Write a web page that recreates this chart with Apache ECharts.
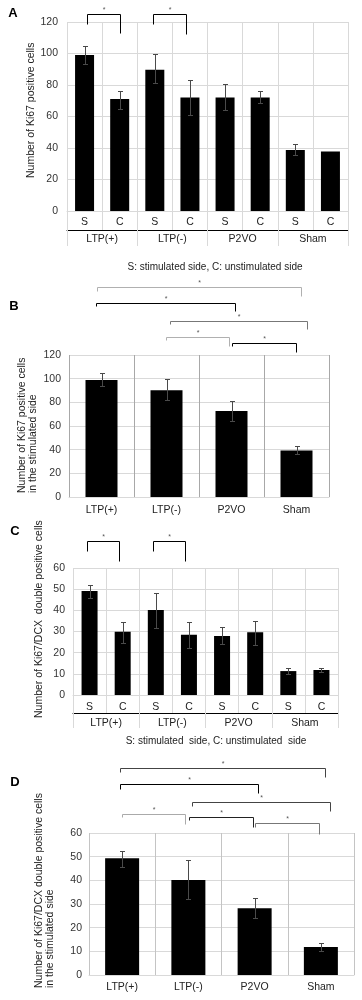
<!DOCTYPE html>
<html>
<head>
<meta charset="utf-8">
<script src="https://cdn.jsdelivr.net/npm/echarts@6/dist/echarts.min.js"></script>
<style>
  html, body { margin: 0; padding: 0; background: #fff; }
  #chart { width: 362px; height: 1000px; }
</style>
</head>
<body>
<div id="chart"></div>
<script>
// ---------- data ----------
const groups = ['LTP(+)', 'LTP(-)', 'P2VO', 'Sham'];
const sides = ['S', 'C', 'S', 'C', 'S', 'C', 'S', 'C'];

// Panel A: Ki67 positive cells, both sides
const ki67Both = [99, 71.1, 89.7, 72, 72, 72, 38.7, 37.7];
const ki67BothLow = [93.1, 65, 81, 60.8, 63.9, 68.4, 35.6, null];
const ki67BothHigh = [104.6, 76.2, 99.4, 83, 80.4, 76.2, 42.5, null];

// Panel B: Ki67 positive cells, stimulated side
const ki67Stim = [98.9, 90.2, 72.7, 39.4];
const ki67StimLow = [93.5, 81.7, 64, 36.3];
const ki67StimHigh = [104.5, 99.7, 80.8, 43.1];

// Panel C: Ki67/DCX double positive cells, both sides
const dcxBoth = [49.1, 29.9, 40.2, 28.5, 27.9, 29.6, 11.3, 11.8];
const dcxBothLow = [46, 24.7, 31.5, 22, 24, 23.5, 9.8, 11];
const dcxBothHigh = [52, 34.6, 48, 34.6, 32, 35.1, 12.9, 12.9];

// Panel D: Ki67/DCX double positive cells, stimulated side
const dcxStim = [49.3, 40.1, 28.2, 11.8];
const dcxStimLow = [45.8, 32, 24, 10.1];
const dcxStimHigh = [52.4, 48.6, 32.4, 13.4];

// significant comparisons (category index pairs)
const sigA = [[0, 1], [2, 3]];
const sigB = [[0, 3], [0, 2], [1, 3], [1, 2], [2, 3]];
const sigC = [[0, 1], [2, 3]];
const sigD = [[0, 3], [0, 2], [1, 3], [0, 1], [1, 2], [2, 3]];

// ---------- annotation layout (bracket heights in axis units, pixel nudges, tones) ----------
const sigALayout = [[125, 118.7, 113, 2, 0], [125, 118.7, 112.4, -2, -4]];
const sigBLayout = [[177.5, 174, 169.9, -4.5, 4.5], [164, 161.4, 157.2, -5.5, 3.5],
                    [148.7, 146.2, 142, 3.5, 10.5], [135.2, 132.7, 127.6, -0.5, -2.5],
                    [130.1, 127.6, 122.5, 0.5, -0.5]];
const sigCLayout = [[72.8, 68, 63.3, -2.5, -3.5], [72.8, 68, 63.3, -2.5, -3.5]];
const sigDLayout = [[87.5, 85.8, 83.7, -2, 4], [80.7, 78.6, 76.9, -2, 3],
                    [73.1, 71.4, 69.3, 4, 9], [68, 66.8, 63.8, 0, -3],
                    [66.8, 65.5, 62.5, 1, -1.5], [64.2, 62.5, 59.6, 0, -2]];
const sigATone = ['#000', '#000'];
const sigBTone = ['#b0b0b0', '#000', '#777', '#b0b0b0', '#000'];
const sigCTone = ['#000', '#000'];
const sigDTone = ['#444', '#000', '#444', '#aaa', '#222', '#777'];

const FONT = '"Liberation Sans", Arial, sans-serif';
const LIGHT = '#d9d9d9';
const TEXT = '#222';

function errorItem(params, api) {
  const lo = api.value(1), hi = api.value(2);
  if (lo == null || hi == null || isNaN(lo) || isNaN(hi)) return null;
  const pLo = api.coord([api.value(0), lo]);
  const pHi = api.coord([api.value(0), hi]);
  const x = Math.round(pLo[0]) + 0.5;
  const yl = Math.round(pLo[1]) + 0.5, yh = Math.round(pHi[1]) + 0.5;
  const cap = 2.5;
  const st = { stroke: '#4a4a4a', lineWidth: 1 };
  return {
    type: 'group',
    children: [
      { type: 'line', shape: { x1: x, y1: yl, x2: x, y2: yh }, style: st },
      { type: 'line', shape: { x1: x - cap, y1: yl, x2: x + cap, y2: yl }, style: st },
      { type: 'line', shape: { x1: x - cap, y1: yh, x2: x + cap, y2: yh }, style: st }
    ]
  };
}

function bracketRenderer(tones) {
  return function (params, api) {
    const from = api.value(0), to = api.value(1);
    const top = api.value(2), lEnd = api.value(3), rEnd = api.value(4);
    const x1 = Math.round(api.coord([from, top])[0] + api.value(5)) + 0.5;
    const x2 = Math.round(api.coord([to, top])[0] + api.value(6)) + 0.5;
    const yTop = Math.round(api.coord([from, top])[1]) + 0.5;
    const yL = Math.round(api.coord([from, lEnd])[1]) + 0.5;
    const yR = Math.round(api.coord([to, rEnd])[1]) + 0.5;
    const color = tones[params.dataIndex];
    return {
      type: 'group',
      children: [
        { type: 'polyline', shape: { points: [[x1, yL], [x1, yTop], [x2, yTop], [x2, yR]] },
          style: { stroke: color, fill: null, lineWidth: 1 } },
        { type: 'text', style: { text: '*', x: (x1 + x2) / 2, y: yTop - 1, align: 'center',
          verticalAlign: 'bottom', fontSize: 7, fill: '#555', fontFamily: FONT } }
      ]
    };
  };
}

function bracketData(pairs, layout) {
  return pairs.map((p, i) => [p[0], p[1], layout[i][0], layout[i][1], layout[i][2], layout[i][3], layout[i][4]]);
}
function errData(lo, hi) {
  return lo.map((v, i) => [i, v, hi[i]]);
}

function valueAxis(gridIndex, max, interval, margin) {
  return {
    type: 'value', gridIndex, min: 0, max, interval,
    axisLine: { show: false }, axisTick: { show: false },
    axisLabel: { fontSize: 10.5, color: '#333', margin, fontFamily: FONT },
    splitLine: { lineStyle: { color: LIGHT, width: 1 } }
  };
}

function catAxis(gridIndex, data, opts) {
  return Object.assign({
    type: 'category', gridIndex, data, position: 'bottom',
    axisLine: { lineStyle: { color: LIGHT } },
    axisTick: { show: false },
    axisLabel: { fontSize: 10.5, color: TEXT, fontFamily: FONT, margin: 7, interval: 0 },
    splitLine: { show: true, lineStyle: { color: LIGHT } }
  }, opts);
}

function ytitle(text, x, y, top) {
  return {
    type: 'text', x, y, rotation: Math.PI / 2,
    style: { text, fontSize: 10.5, fill: TEXT, fontFamily: FONT, align: 'left',
      verticalAlign: top ? 'top' : 'middle', lineHeight: 11 }
  };
}

const chart = echarts.init(document.getElementById('chart'), null, { renderer: 'canvas' });

const option = {
  animation: false,
  backgroundColor: '#fff',
  grid: [
    { left: 67, top: 22, width: 281, height: 189 },
    { left: 69, top: 355, width: 260, height: 142 },
    { left: 73, top: 568, width: 265, height: 127 },
    { left: 89, top: 833, width: 265, height: 142 }
  ],
  xAxis: [
    catAxis(0, sides, { axisTick: { show: true, length: 19, lineStyle: { color: LIGHT } },
      axisLabel: { fontSize: 10.5, color: TEXT, fontFamily: FONT, margin: 6, interval: 0 } }),
    catAxis(0, groups, { offset: 19, axisLine: { lineStyle: { color: '#000' } },
      axisTick: { show: true, length: 16, lineStyle: { color: LIGHT } },
      axisLabel: { fontSize: 10.5, color: TEXT, fontFamily: FONT, margin: 4, interval: 0 },
      splitLine: { show: false } }),
    catAxis(1, groups, { splitLine: { show: true, lineStyle: { color: '#a8a8a8' } },
      axisLabel: { fontSize: 10.5, color: TEXT, fontFamily: FONT, margin: 8, interval: 0 } }),
    catAxis(2, sides, { axisTick: { show: true, length: 18, lineStyle: { color: LIGHT } },
      axisLabel: { fontSize: 10.5, color: TEXT, fontFamily: FONT, margin: 7, interval: 0 } }),
    catAxis(2, groups, { offset: 18, axisLine: { lineStyle: { color: '#000' } },
      axisTick: { show: true, length: 15, lineStyle: { color: LIGHT } },
      axisLabel: { fontSize: 10.5, color: TEXT, fontFamily: FONT, margin: 5, interval: 0 },
      splitLine: { show: false } }),
    catAxis(3, groups, { splitLine: { show: true, lineStyle: { color: '#c4c4c4' } },
      axisLabel: { fontSize: 10.5, color: TEXT, fontFamily: FONT, margin: 7, interval: 0 } })
  ],
  yAxis: [
    valueAxis(0, 120, 20, 9),
    valueAxis(1, 120, 20, 8),
    valueAxis(2, 60, 10, 8),
    valueAxis(3, 60, 10, 7)
  ],
  series: [
    { type: 'bar', xAxisIndex: 0, yAxisIndex: 0, data: ki67Both, barWidth: 19, itemStyle: { color: '#000' } },
    { type: 'custom', xAxisIndex: 0, yAxisIndex: 0, renderItem: errorItem, data: errData(ki67BothLow, ki67BothHigh),
      encode: { x: 0, y: [1, 2] }, z: 5 },
    { type: 'custom', xAxisIndex: 0, yAxisIndex: 0, renderItem: bracketRenderer(sigATone),
      data: bracketData(sigA, sigALayout), encode: { x: [0, 1], y: [2, 3, 4] }, clip: false, z: 5 },

    { type: 'bar', xAxisIndex: 2, yAxisIndex: 1, data: ki67Stim, barWidth: 32, itemStyle: { color: '#000' } },
    { type: 'custom', xAxisIndex: 2, yAxisIndex: 1, renderItem: errorItem, data: errData(ki67StimLow, ki67StimHigh),
      encode: { x: 0, y: [1, 2] }, z: 5 },
    { type: 'custom', xAxisIndex: 2, yAxisIndex: 1, renderItem: bracketRenderer(sigBTone),
      data: bracketData(sigB, sigBLayout), encode: { x: [0, 1], y: [2, 3, 4] }, clip: false, z: 5 },

    { type: 'bar', xAxisIndex: 3, yAxisIndex: 2, data: dcxBoth, barWidth: 16, itemStyle: { color: '#000' } },
    { type: 'custom', xAxisIndex: 3, yAxisIndex: 2, renderItem: errorItem, data: errData(dcxBothLow, dcxBothHigh),
      encode: { x: 0, y: [1, 2] }, z: 5 },
    { type: 'custom', xAxisIndex: 3, yAxisIndex: 2, renderItem: bracketRenderer(sigCTone),
      data: bracketData(sigC, sigCLayout), encode: { x: [0, 1], y: [2, 3, 4] }, clip: false, z: 5 },

    { type: 'bar', xAxisIndex: 5, yAxisIndex: 3, data: dcxStim, barWidth: 34, itemStyle: { color: '#000' } },
    { type: 'custom', xAxisIndex: 5, yAxisIndex: 3, renderItem: errorItem, data: errData(dcxStimLow, dcxStimHigh),
      encode: { x: 0, y: [1, 2] }, z: 5 },
    { type: 'custom', xAxisIndex: 5, yAxisIndex: 3, renderItem: bracketRenderer(sigDTone),
      data: bracketData(sigD, sigDLayout), encode: { x: [0, 1], y: [2, 3, 4] }, clip: false, z: 5 }
  ],
  graphic: [
    { type: 'text', x: 13, y: 13, style: { text: 'A', fontSize: 13, fontWeight: 'bold', fill: '#000', fontFamily: FONT, align: 'center', verticalAlign: 'middle' } },
    { type: 'text', x: 14, y: 306, style: { text: 'B', fontSize: 13, fontWeight: 'bold', fill: '#000', fontFamily: FONT, align: 'center', verticalAlign: 'middle' } },
    { type: 'text', x: 15, y: 531, style: { text: 'C', fontSize: 13, fontWeight: 'bold', fill: '#000', fontFamily: FONT, align: 'center', verticalAlign: 'middle' } },
    { type: 'text', x: 15, y: 782, style: { text: 'D', fontSize: 13, fontWeight: 'bold', fill: '#000', fontFamily: FONT, align: 'center', verticalAlign: 'middle' } },
    ytitle('Number of Ki67 positive cells', 31, 178, false),
    ytitle('Number of Ki67 positive cells\nin the stimulated side', 16.5, 493, true),
    ytitle('Number of Ki67/DCX  double positive cells', 39, 718, false),
    ytitle('Number of Ki67/DCX double positive cells\nin the stimulated side', 33.5, 988, true),
    { type: 'text', x: 215, y: 267, style: { text: 'S: stimulated side, C: unstimulated side', fontSize: 10, fill: TEXT, fontFamily: FONT, align: 'center', verticalAlign: 'middle' } },
    { type: 'text', x: 216, y: 741, style: { text: 'S: stimulated  side, C: unstimulated  side', fontSize: 10, fill: TEXT, fontFamily: FONT, align: 'center', verticalAlign: 'middle' } }
  ]
};

chart.setOption(option);
</script>
</body>
</html>
